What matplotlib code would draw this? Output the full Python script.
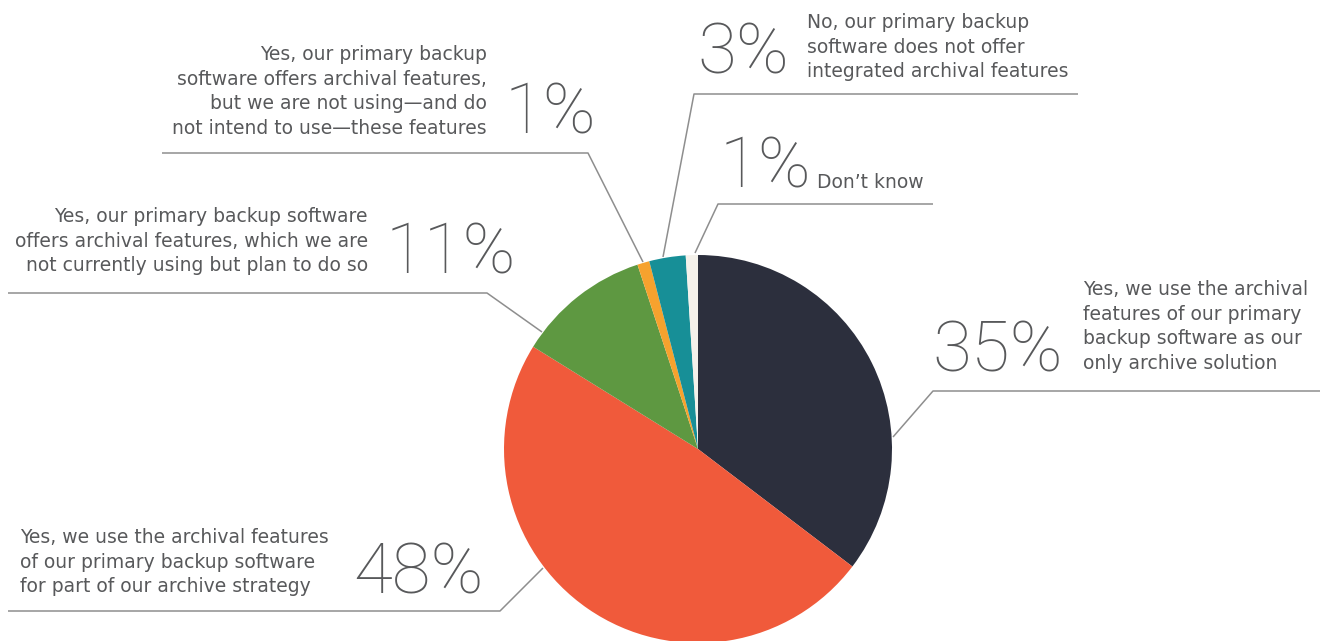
import numpy as np
import matplotlib
matplotlib.use("Agg")
import matplotlib.pyplot as plt

# valores de la encuesta (sentido horario desde arriba)
valores = [35, 48, 11, 1, 3, 1]
etiquetas_pct = ["35%", "48%", "11%", "1%", "3%", "1%"]
descripciones = [
    ["Yes, we use the archival", "features of our primary", "backup software as our", "only archive solution"],
    ["Yes, we use the archival features", "of our primary backup software", "for part of our archive strategy"],
    ["Yes, our primary backup software", "offers archival features, which we are", "not currently using but plan to do so"],
    ["Yes, our primary backup", "software offers archival features,", "but we are not using\u2014and do", "not intend to use\u2014these features"],
    ["No, our primary backup", "software does not offer", "integrated archival features"],
    ["Don\u2019t know"],
]
colores = ["#2c2f3d", "#f05a3b", "#5e9841", "#f6a22e", "#178f97", "#f4f1ea"]

W, H = 1320, 641
gris = "#58595b"
linea = "#8e8e8e"

# posiciones de las etiquetas (pixeles, y hacia abajo)
pos_pct = [(932, 372), (353, 593), (386, 273), (505, 133), (697, 73), (720, 187)]
pos_desc = [(1083, 295, "left"), (20, 543, "left"), (368, 222, "right"),
            (487, 60, "right"), (807, 28, "left"), (817, 188, "left")]
guias = [
    [(1320, 391), (933, 391), (893, 437)],
    [(8, 611), (500, 611), (543, 568)],
    [(8, 293), (487, 293), (542, 332)],
    [(162, 153), (588, 153), (643, 262)],
    [(1078, 94), (694, 94), (663, 257)],
    [(933, 204), (718, 204), (695, 253)],
]

def yy(y):
    return H - y

fig = plt.figure(figsize=(13.2, 6.41), dpi=100)
ax = fig.add_axes([0, 0, 1, 1])

ax.pie(valores, colors=colores, startangle=90, counterclock=False,
       center=(698, yy(449)), radius=194, frame=True,
       wedgeprops=dict(linewidth=0))

for g in guias:
    xs = [p[0] for p in g]
    ys = [yy(p[1]) for p in g]
    ax.plot(xs, ys, color=linea, lw=1.1, solid_capstyle="butt", zorder=1)

for pct, (px, py) in zip(etiquetas_pct, pos_pct):
    ax.text(px, yy(py), pct, fontsize=51, family="Roboto", fontweight="light",
            color=gris, ha="left", va="baseline")

for lineas, (dx, dy, al) in zip(descripciones, pos_desc):
    for i, t in enumerate(lineas):
        ax.text(dx, yy(dy + i * 24.6), t, fontsize=13.5, family="DejaVu Sans",
                color=gris, ha=al, va="baseline")

ax.set_xlim(0, W)
ax.set_ylim(0, H)
ax.set_aspect("equal")
ax.axis("off")

fig.savefig("out.png", dpi=100)
